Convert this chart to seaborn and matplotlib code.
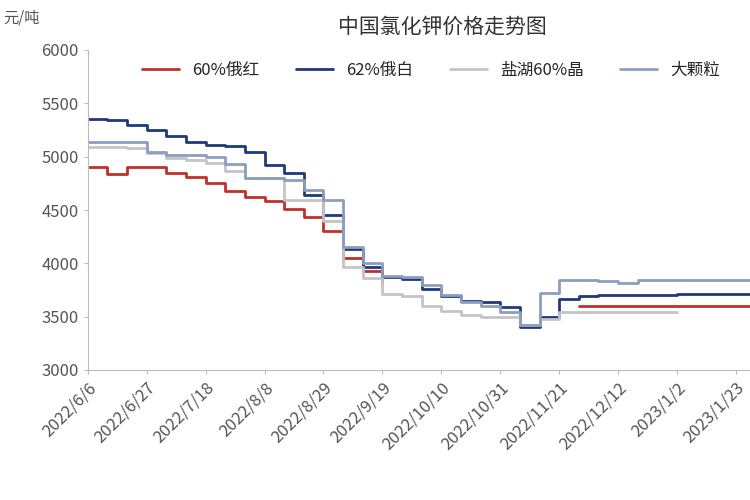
import numpy as np
import pandas as pd
from matplotlib import pyplot as plt
import seaborn as sns

sns.set_style('white')
plt.rcParams['font.family'] = ['Noto Sans CJK SC', 'DejaVu Sans']

nan = np.nan
dates = pd.date_range('2022-06-06', periods=35, freq='7D')
red_60 = [4900, 4840, 4900, 4900, 4850, 4810, 4750, 4680, 4620, 4580, 4510, 4430, 4300,
          4050, 3930, 3820, nan, nan, nan, nan, nan, nan, nan, nan, nan, 3600, 3600,
          3600, 3600, 3600, 3600, 3600, 3600, 3600, 3600]
white_62 = [5350, 5340, 5300, 5250, 5190, 5140, 5110, 5100, 5040, 4920, 4850, 4640, 4450,
            4130, 3970, 3870, 3850, 3760, 3690, 3650, 3640, 3590, 3400, 3500, 3670, 3690,
            3700, 3700, 3700, 3700, 3710, 3710, 3710, 3710, 3710]
salt_60 = [5090, 5090, 5080, 5030, 4990, 4970, 4940, 4870, 4800, 4800, 4590, 4590, 4400,
           3970, 3860, 3710, 3690, 3600, 3550, 3520, 3500, 3500, 3420, 3480, 3540, 3540,
           3540, 3540, 3540, 3540, 3540, nan, nan, nan, nan]
granular = [5140, 5140, 5140, 5040, 5020, 5020, 5000, 4930, 4800, 4800, 4780, 4690, 4590,
            4150, 4000, 3880, 3870, 3800, 3700, 3640, 3600, 3540, 3420, 3720, 3840, 3840,
            3830, 3820, 3840, 3840, 3840, 3840, 3840, 3840, 3840]
names = ['60%俄红', '62%俄白', '盐湖60%晶', '大颗粒']
colors = ['#c0302a', '#1f3a7a', '#c4c4c4', '#8c9ec0']

fig = plt.figure(figsize=(7.5, 5), dpi=100)
ax = fig.add_axes([0.117, 0.26, 0.883, 0.64])
for name, vals, c in zip(names, [red_60, white_62, salt_60, granular], colors):
    s = pd.Series(vals, index=dates)
    seg = s.isna().cumsum()
    df = pd.DataFrame({'date': dates, 'v': s.values, 'seg': seg.values}).dropna()
    sns.lineplot(data=df, x='date', y='v', units='seg', estimator=None, ax=ax,
                 color=c, linewidth=2, drawstyle='steps-post')
    ax.plot([], [], color=c, linewidth=2, label=name)

ticks = pd.date_range('2022-06-06', periods=13, freq='21D')
ax.set_xticks(ticks)
ax.set_xticklabels([f'{d.year}/{d.month}/{d.day}' for d in ticks], rotation=45,
                   ha='right', rotation_mode='anchor', fontsize=12, color='#555555')
ax.set_ylim(3000, 6000)
ax.set_xlim(pd.Timestamp('2022-06-06'), pd.Timestamp('2023-01-28'))
ax.tick_params(axis='y', labelsize=12, colors='#555555')
ax.set_xlabel('')
ax.set_ylabel('')
for s in ['top', 'right']:
    ax.spines[s].set_visible(False)
for s in ['left', 'bottom']:
    ax.spines[s].set_color('#bbbbbb')
ax.tick_params(axis='both', length=3, color='#bbbbbb', direction='out', left=True, bottom=True)

ax.legend(loc='upper left', bbox_to_anchor=(0.06, 1.01), ncol=4, frameon=False,
          fontsize=12, handlelength=2.2, columnspacing=2.2)
fig.text(0.005, 0.955, '元/吨', fontsize=11, color='#555555')
fig.text(0.59, 0.935, '中国氯化钾价格走势图', fontsize=15, ha='center', color='#333333')

plt.savefig('out.png')
